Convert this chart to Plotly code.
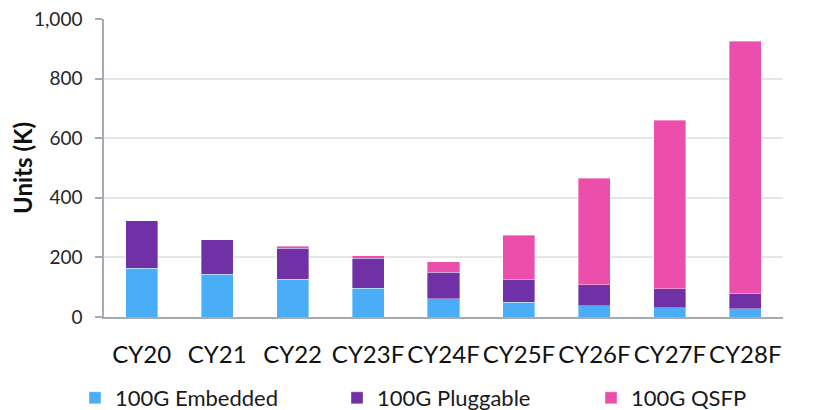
import plotly.graph_objects as go

categories = ["CY20", "CY21", "CY22", "CY23F", "CY24F", "CY25F", "CY26F", "CY27F", "CY28F"]
embedded = [164, 144, 127, 97, 62, 49, 38, 31, 27]
pluggable = [159, 115, 103, 101, 89, 78, 71, 63, 52]
qsfp = [0, 0, 8, 8, 34, 148, 357, 567, 846]
y_ticks = [0, 200, 400, 600, 800, 1000]
y_tick_labels = ["0", "200", "400", "600", "800", "1,000"]

FONT = "Lato"
# page body has an 8px margin, so the figure is drawn 8px smaller
W, H = 821, 402
ML, MR, MT, MB = 96, 46, 11, 93
PW, PH = W - ML - MR, H - MT - MB

series = [
    ("100G Embedded", embedded, "#4AADF7", "legend", 67),
    ("100G Pluggable", pluggable, "#7030A6", "legend2", 329),
    ("100G QSFP", qsfp, "#EC4FAB", "legend3", 583),
]

fig = go.Figure()
legend_layout = {}
for name, vals, color, leg, xpix in series:
    fig.add_trace(go.Bar(
        x=categories, y=vals, name=name, legend=leg,
        marker=dict(color=color, line=dict(color="rgba(255,255,255,0.45)", width=0.8)),
    ))
    legend_layout[leg] = dict(
        orientation="h", xref="paper", yref="paper",
        x=(xpix - ML) / PW, xanchor="left", y=-81 / PH, yanchor="middle",
        font=dict(size=22, family=FONT, color="#1a1a1a"),
        itemclick=False, itemwidth=30, bgcolor="rgba(0,0,0,0)",
    )

fig.update_layout(
    width=W, height=H,
    barmode="stack", bargap=0.575,
    plot_bgcolor="white", paper_bgcolor="white",
    margin=dict(l=ML, r=MR, t=MT, b=MB, autoexpand=False),
    font=dict(family=FONT, color="#1a1a1a"),
    showlegend=True,
    **legend_layout,
)
fig.update_xaxes(
    automargin=False,
    showline=True, linecolor="#a6abb3", linewidth=2,
    tickfont=dict(size=24, family=FONT, color="#111111"),
    ticks="", ticklabelstandoff=15,
)
fig.update_yaxes(
    automargin=False,
    range=[0, 1000], tickvals=y_ticks, ticktext=y_tick_labels,
    showgrid=True, gridcolor="#e6e6e6", gridwidth=2,
    showline=True, linecolor="#a6abb3", linewidth=1.5,
    ticks="outside", ticklen=7, tickcolor="#a6abb3", tickwidth=1.5,
    tickfont=dict(size=19, family=FONT, color="#262626"),
    ticklabelstandoff=9, ticklabeloverflow="allow",
    zeroline=False,
    title=dict(text="<b>Units (K)</b>", font=dict(size=24, family=FONT, color="#111111"), standoff=7),
)

fig.write_html("out.html")
